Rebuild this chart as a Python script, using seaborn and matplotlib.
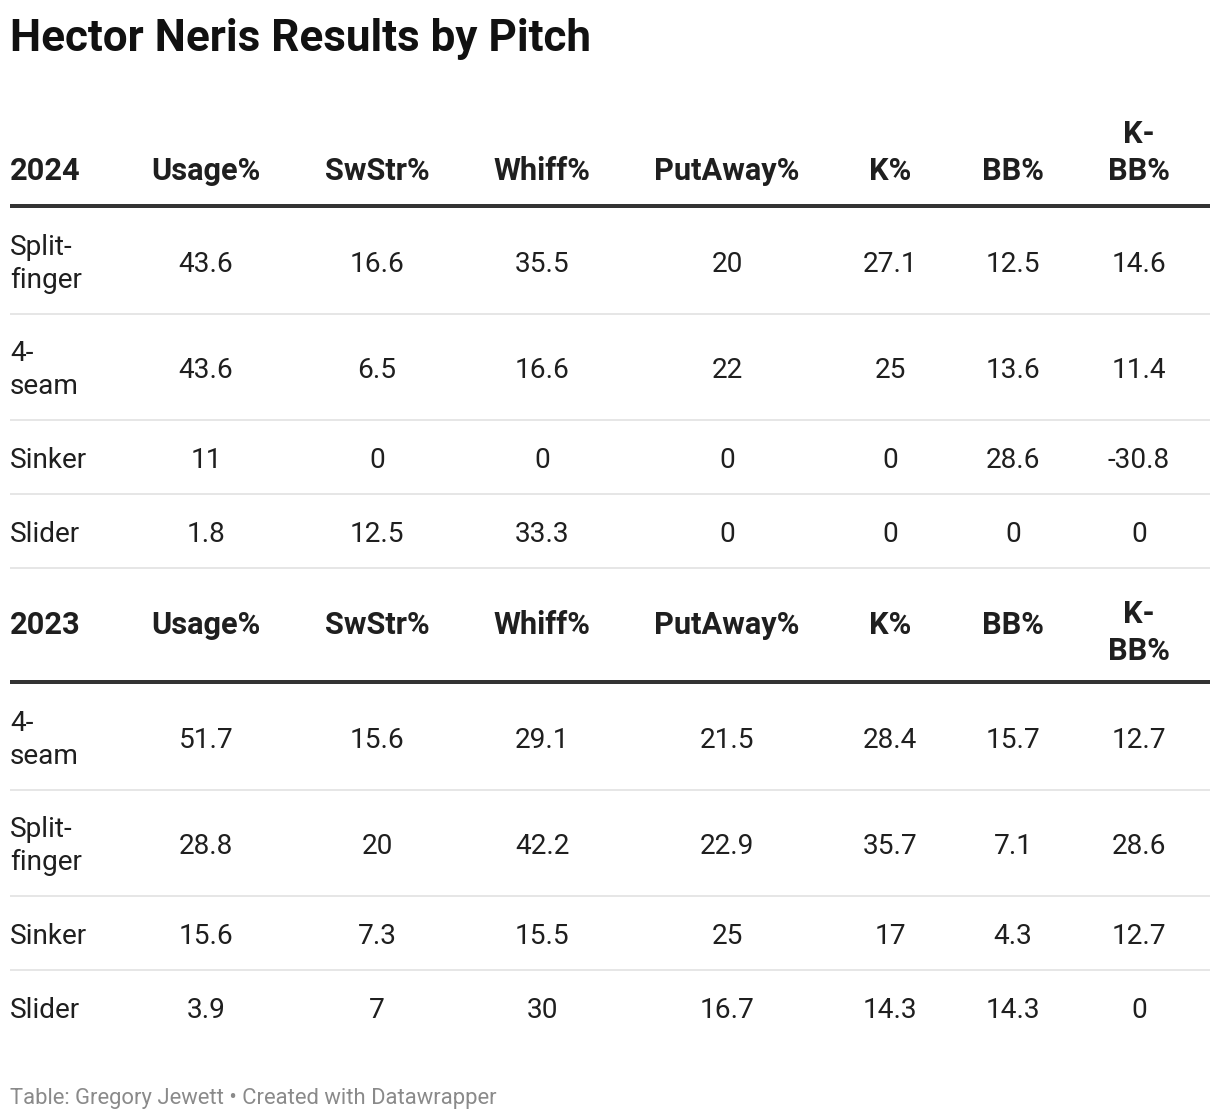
import matplotlib
matplotlib.use("Agg")
import matplotlib.pyplot as plt
import seaborn as sns

# table data
title = "Hector Neris Results by Pitch"
footer = "Table: Gregory Jewett \u2022 Created with Datawrapper"
columns = ["Usage%", "SwStr%", "Whiff%", "PutAway%", "K%", "BB%", "K-BB%"]

years = ["2024", "2023"]
pitches_2024 = ["Split-finger", "4-seam", "Sinker", "Slider"]
values_2024 = [
    [43.6, 16.6, 35.5, 20, 27.1, 12.5, 14.6],
    [43.6, 6.5, 16.6, 22, 25, 13.6, 11.4],
    [11, 0, 0, 0, 0, 28.6, -30.8],
    [1.8, 12.5, 33.3, 0, 0, 0, 0],
]
pitches_2023 = ["4-seam", "Split-finger", "Sinker", "Slider"]
values_2023 = [
    [51.7, 15.6, 29.1, 21.5, 28.4, 15.7, 12.7],
    [28.8, 20, 42.2, 22.9, 35.7, 7.1, 28.6],
    [15.6, 7.3, 15.5, 25, 17, 4.3, 12.7],
    [3.9, 7, 30, 16.7, 14.3, 14.3, 0],
]
sections = [(years[0], pitches_2024, values_2024), (years[1], pitches_2023, values_2023)]

sns.set_theme(style="white")
plt.rcParams['font.family'] = ['Roboto', 'DejaVu Sans']

W, H = 1220, 1120
fig = plt.figure(figsize=(W / 100, H / 100), dpi=100)
ax = fig.add_axes([0, 0, 1, 1])
ax.set_xlim(0, W)
ax.set_ylim(H, 0)
ax.axis('off')

PX = 0.72  # px -> pt at dpi 100
left, right = 10, 1210
col_x = [206, 377, 542, 727, 890, 1013, 1139]
txt = '#1f1f1f'
hsize = 30.8 * PX
bsize = 28 * PX


def wrap(s):
    # narrow columns break after the hyphen
    if '-' in s:
        i = s.index('-') + 1
        return [s[:i], s[i:]]
    return [s]


def header_cell(x, base_single, base_last, label, ha):
    parts = wrap(label) if len(label) <= 5 and '-' in label else [label]
    if len(parts) == 1:
        ax.text(x, base_single, label, fontsize=hsize, fontweight='bold',
                color=txt, ha=ha, va='baseline')
        return
    for k, p in enumerate(parts):
        ax.text(x, base_last - (len(parts) - 1 - k) * 37, p, fontsize=hsize,
                fontweight='bold', color=txt, ha=ha, va='baseline')


ax.text(left, 51, title, fontsize=44 * PX, fontweight='bold', color='#111111', va='baseline')

y = 91
for si, (yr, pitches, vals) in enumerate(sections):
    thick = y + 115
    if si == 0:
        # real table header: bottom aligned
        b_single, b_last = thick - 26, thick - 26
    else:
        # repeated header row: middle aligned
        b_single, b_last = thick - 48, thick - 22
    header_cell(left, b_single, b_last, yr, 'left')
    for cx, c in zip(col_x, columns):
        header_cell(cx, b_single, b_last, c, 'center')
    ax.hlines(thick, left, right, color='#333333', lw=4 * PX)
    y = thick + 2
    for ri, (p, row) in enumerate(zip(pitches, vals)):
        parts = wrap(p)
        h = 106 if len(parts) > 1 else 74
        yc = y + h / 2
        n = len(parts)
        for k, part in enumerate(parts):
            ax.text(left, yc + (k - (n - 1) / 2) * 33, part, fontsize=bsize,
                    color=txt, ha='left', va='center_baseline')
        for cx, v in zip(col_x, row):
            ax.text(cx, yc, f"{v:g}", fontsize=bsize, color=txt, ha='center',
                    va='center_baseline')
        y += h
        last = si == len(sections) - 1 and ri == len(pitches) - 1
        if not last:
            ax.hlines(y, left, right, color='#e6e6e6', lw=2 * PX)
    y = y - 1

ax.text(left, 1104, footer, fontsize=22 * PX, color='#8a8a8a', va='baseline')

fig.savefig('out.png', dpi=100, facecolor='white')
